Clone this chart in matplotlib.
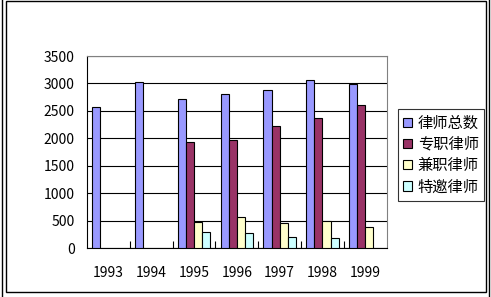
import numpy as np
import matplotlib
matplotlib.use("Agg")
import matplotlib.pyplot as plt
from matplotlib.lines import Line2D
from matplotlib.patches import Rectangle

plt.rcParams['font.family'] = ['Noto Sans CJK SC', 'DejaVu Sans']

years = ['1993', '1994', '1995', '1996', '1997', '1998', '1999']
series_names = ['律师总数', '专职律师', '兼职律师', '特邀律师']
total = [2580, 3020, 2725, 2800, 2890, 3055, 2990]
fulltime = [np.nan, np.nan, 1940, 1980, 2230, 2380, 2600]
parttime = [np.nan, np.nan, 475, 565, 465, 500, 385]
invited = [np.nan, np.nan, 295, 275, 200, 185, np.nan]
colors = ['#9999FF', '#993366', '#FFFFCC', '#CCFFFF']

W, H = 491, 297
fig = plt.figure(figsize=(W / 100, H / 100), dpi=100)
ax = fig.add_axes([87 / W, 1 - 248.3 / H, 299.7 / W, 192.3 / H])

x = np.arange(len(years))
bw = 0.19
data = [total, fulltime, parttime, invited]
for i, (vals, c, name) in enumerate(zip(data, colors, series_names)):
    ax.bar(x + (i - 1.5) * bw, vals, width=bw, color=c, edgecolor='black',
           linewidth=0.8, label=name, zorder=3)

ax.set_xlim(-0.5, len(years) - 0.5)
ax.set_ylim(0, 3500)
ax.set_yticks(np.arange(0, 3501, 500))
ax.yaxis.grid(True, color='black', linewidth=0.8, zorder=0)
ax.set_axisbelow(True)
ax.set_xticks(x)
ax.set_xticklabels(years)
ax.set_xticks(np.arange(0.5, len(years) - 0.5, 1), minor=True)
ax.tick_params(axis='x', which='major', length=0, pad=13, labelsize=10)
ax.tick_params(axis='x', which='minor', direction='in', length=5, width=0.8, color='black')
ax.tick_params(axis='y', length=0, pad=9, labelsize=10)
ax.spines['top'].set_color('#808080')
ax.spines['right'].set_color('#808080')
for s in ['left', 'bottom']:
    ax.spines[s].set_color('black')
for s in ax.spines.values():
    s.set_linewidth(0.8)

leg = fig.legend(loc='upper left', bbox_to_anchor=(398 / W, 1 - 109.3 / H),
                 borderaxespad=0, fancybox=False, frameon=True, edgecolor='black',
                 fontsize=11, handlelength=0.55, handleheight=0.55,
                 handletextpad=0.4, borderpad=0.35, labelspacing=0.28)
leg.get_frame().set_linewidth(0.8)

def px(xp, yp):
    return (xp / W, 1 - yp / H)

fig.add_artist(Rectangle(px(6, 292), 480 / W, 291 / H, fill=False,
                         edgecolor='black', linewidth=1.0, transform=fig.transFigure))
fig.add_artist(Line2D([1.5 / W, 1.5 / W], [0, 1], color='black', linewidth=1.0,
                      transform=fig.transFigure))
fig.add_artist(Line2D([489 / W, 489 / W], [0, 1], color='black', linewidth=1.0,
                      transform=fig.transFigure))

fig.savefig('out.png', dpi=100)
